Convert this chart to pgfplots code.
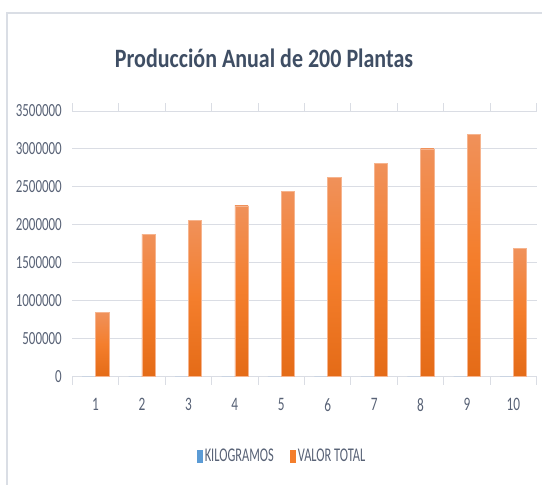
\documentclass[border=0pt]{standalone}
\usepackage{pgfplots}
\pgfplotsset{compat=1.18}
\usepackage{pgfplotstable}
\usepackage{fontspec}
\setmainfont{Carlito}
\newfontfamily\titlefont[FakeStretch=0.83]{Carlito}
\newfontfamily\tickfont[FakeStretch=0.70]{Carlito}
\newfontfamily\legfont[FakeStretch=0.64]{Carlito}
\definecolor{titlec}{HTML}{3F4E64}
\definecolor{labc}{HTML}{586276}
\definecolor{gridc}{HTML}{DADDE4}
\definecolor{framec}{HTML}{DADEE5}
\definecolor{kgblue}{HTML}{5B9BD5}
\definecolor{orTop}{HTML}{F0915A}
\definecolor{orMid}{HTML}{F47E2C}
\definecolor{orBot}{HTML}{E46B17}
\definecolor{orEdge}{HTML}{F6B48E}

\pgfplotstableread{
cat kg valor
1 225 843750
2 500 1875000
3 550 2062500
4 600 2250000
5 650 2437500
6 700 2625000
7 750 2812500
8 800 3000000
9 850 3187500
10 450 1687500
}\datatable

\begin{document}
\begin{tikzpicture}
\useasboundingbox (0bp,0bp) rectangle (542bp,485bp);
\fill[white] (0bp,0bp) rectangle (542bp,485bp);
\draw[framec, line width=1.5bp] (7bp,0bp) -- (7bp,472bp) -- (542bp,472bp);
\node[font=\titlefont\bfseries\fontsize{26.5bp}{30bp}\selectfont, text=titlec, anchor=base, inner sep=0pt] at (264bp,417.3bp) {Producción Anual de 200 Plantas};
\begin{axis}[
  at={(72.3bp,108.3bp)}, anchor=south west,
  scale only axis, width=464.4bp, height=265.7bp,
  xmin=0.5, xmax=10.5, ymin=0, ymax=3500000,
  axis line style={draw=none},
  xtick={1,...,10},
  ytick={0,500000,...,3500000},
  scaled y ticks=false,
  /pgf/number format/assume math mode=true,
  yticklabel style={/pgf/number format/fixed, /pgf/number format/1000 sep={},
     font=\tickfont\fontsize{18.5bp}{20bp}\selectfont, text=labc, anchor=east, xshift=-7bp},
  xticklabel style={font=\tickfont\fontsize{19bp}{20bp}\selectfont, text=labc, yshift=-18bp},
  tick style={draw=none},
  ymajorgrids, grid style={gridc, line width=1bp},
  extra x ticks={0.5,1.5,...,10.5},
  extra x tick labels={},
  extra x tick style={grid=none, tick align=outside, major tick length=8bp,
     tick style={draw=gridc, line width=1bp}},
  legend style={at={(0.4516,-0.2985)}, anchor=center, draw=none, fill=none,
     legend columns=2, font=\legfont\fontsize{19.4bp}{21bp}\selectfont, text=labc,
     /tikz/every even column/.append style={column sep=15bp},
     nodes={inner xsep=1.5bp}},
  legend image code/.code={\fill[#1] (0bp,-6.5bp) rectangle (6bp,6.5bp);},
]
\addplot[ybar, bar width=13.3bp, bar shift=-6.65bp, draw=none, fill=kgblue] table[x=cat,y=kg]{\datatable};
\addlegendimage{fill=orMid, draw=none}
\pgfplotsinvokeforeach{1,...,10}{
\addplot[ybar, bar width=13.3bp, bar shift=6.65bp, draw=orEdge, line width=0.6bp,
   top color=orTop, bottom color=orBot, middle color=orMid, forget plot,
   x filter/.expression={x==#1 ? x : nan}] table[x=cat,y=valor]{\datatable};
}
\legend{KILOGRAMOS, VALOR TOTAL}
\end{axis}
\end{tikzpicture}
\end{document}
